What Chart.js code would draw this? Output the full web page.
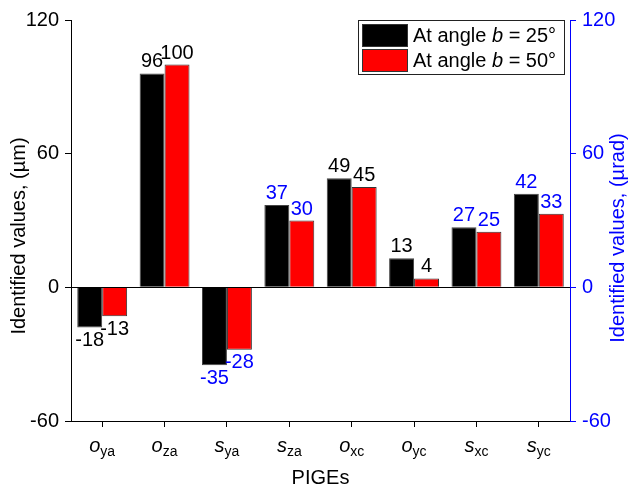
<!DOCTYPE html>
<html>
<head>
<meta charset="utf-8">
<script src="https://cdn.jsdelivr.net/npm/chart.js@4.4.0/dist/chart.umd.min.js"></script>
<style>
  html, body { margin: 0; padding: 0; background: #fff; }
  #wrap { width: 630px; height: 486px; }
</style>
</head>
<body>
<div id="wrap"><canvas id="myChart" width="630" height="486"></canvas></div>
<script>
// categories: main letter + subscript
const catMain = ['o', 'o', 's', 's', 'o', 'o', 's', 's']
const catSub = ['ya', 'za', 'ya', 'za', 'xc', 'yc', 'xc', 'yc']
// identified values
const angle25 = [-18, 96, -35, 37, 49, 13, 27, 42]
const angle50 = [-13, 100, -28, 30, 45, 4, 25, 33]
// value label colour (black = µm, blue = µrad)
const labelColor = ['#000', '#000', '#0000ff', '#0000ff', '#000', '#000', '#0000ff', '#0000ff']
const yTicks = [-60, 0, 60, 120]
const legendNames = [['At angle ', 'b', ' = 25°'], ['At angle ', 'b', ' = 50°']]

const FONT = "'Liberation Sans', Arial, Helvetica, sans-serif"
Chart.defaults.font.family = FONT

// value labels, zero line, category labels, titles, legend
const extras = {
  id: 'extras',
  afterDatasetsDraw(chart) {
    const c = chart.ctx
    const area = chart.chartArea
    const y = chart.scales.y
    // zero line
    const y0 = Math.round(y.getPixelForValue(0)) + 0.5
    c.save()
    c.strokeStyle = '#000'
    c.lineWidth = 1
    c.beginPath()
    c.moveTo(area.left, y0)
    c.lineTo(area.right, y0)
    c.stroke()
    // value labels
    c.font = '20px ' + FONT
    c.textAlign = 'center'
    chart.data.datasets.forEach((ds, i) => {
      chart.getDatasetMeta(i).data.forEach((el, j) => {
        const v = ds.data[j]
        c.fillStyle = labelColor[j]
        if (v >= 0) {
          c.textBaseline = 'alphabetic'
          c.fillText(String(v), el.x, el.y - 6)
        } else {
          c.textBaseline = 'top'
          c.fillText(String(v), el.x, el.y + 3)
        }
      })
    })
    c.restore()
  },
  afterDraw(chart) {
    const c = chart.ctx
    const x = chart.scales.x
    const area = chart.chartArea
    c.save()
    // category labels
    c.textBaseline = 'alphabetic'
    c.textAlign = 'left'
    c.fillStyle = '#000'
    catMain.forEach((m, i) => {
      const cx = x.getPixelForValue(i)
      c.font = 'italic 20px ' + FONT
      const w1 = c.measureText(m).width
      c.font = '14px ' + FONT
      const w2 = c.measureText(catSub[i]).width
      const x0 = cx - (w1 + w2) / 2
      c.font = 'italic 20px ' + FONT
      c.fillText(m, x0, 452)
      c.font = '14px ' + FONT
      c.fillText(catSub[i], x0 + w1, 456)
    })
    // axis titles
    c.font = '20px ' + FONT
    c.textAlign = 'center'
    c.fillText('PIGEs', (area.left + area.right) / 2, 484)
    c.textBaseline = 'middle'
    c.save()
    c.translate(19, 236)
    c.rotate(-Math.PI / 2)
    c.fillText('Identified values, (µm)', 0, 0)
    c.restore()
    c.save()
    c.fillStyle = '#0000ff'
    c.translate(618, 238)
    c.rotate(-Math.PI / 2)
    c.fillText('Identified values, (µrad)', 0, 0)
    c.restore()
    // legend
    c.strokeStyle = '#222'
    c.lineWidth = 1
    c.fillStyle = '#fff'
    c.fillRect(358.5, 20.5, 206, 54)
    c.strokeRect(358.5, 20.5, 206, 54)
    chart.data.datasets.forEach((ds, i) => {
      const top = 24 + i * 25
      c.fillStyle = ds.backgroundColor
      c.fillRect(362.5, top + 0.5, 45, 22)
      c.strokeStyle = '#333'
      c.strokeRect(362.5, top + 0.5, 45, 22)
      c.fillStyle = '#000'
      c.textAlign = 'left'
      c.textBaseline = 'middle'
      let tx = 413
      legendNames[i].forEach((part, k) => {
        c.font = (k === 1 ? 'italic ' : '') + '20px ' + FONT
        c.fillText(part, tx, top + 12)
        tx += c.measureText(part).width
      })
    })
    c.restore()
  }
}

const ctx = document.getElementById('myChart')
const myChart = new Chart(ctx, {
  type: 'bar',
  data: {
    labels: catMain.map((m, i) => m + catSub[i]),
    datasets: [
      {
        label: 'At angle b = 25°',
        data: angle25,
        backgroundColor: '#000000',
        borderColor: '#444444',
        borderWidth: 1,
        yAxisID: 'y'
      },
      {
        label: 'At angle b = 50°',
        data: angle50,
        backgroundColor: '#ff0000',
        borderColor: '#333333',
        borderWidth: 1,
        yAxisID: 'y'
      }
    ]
  },
  options: {
    responsive: false,
    animation: false,
    devicePixelRatio: 1,
    categoryPercentage: 0.8,
    barPercentage: 1.0,
    layout: { padding: { top: 20, left: 0, right: 0, bottom: 0 } },
    plugins: {
      legend: { display: false },
      tooltip: { enabled: false }
    },
    scales: {
      x: {
        grid: { offset: false, drawOnChartArea: false, drawTicks: true, tickLength: 6, color: '#000' },
        border: { display: true, color: '#000', width: 1 },
        ticks: { display: false },
        afterFit: s => { s.height = 65 }
      },
      y: {
        position: 'left',
        min: -60,
        max: 120,
        afterBuildTicks: s => { s.ticks = yTicks.map(v => ({ value: v })) },
        ticks: { color: '#000', font: { size: 20 }, padding: 6 },
        grid: { drawOnChartArea: false, drawTicks: true, tickLength: 6, color: '#000' },
        border: { display: true, color: '#000', width: 1 },
        afterFit: s => { s.width = 71 }
      },
      y2: {
        position: 'right',
        min: -60,
        max: 120,
        afterBuildTicks: s => { s.ticks = yTicks.map(v => ({ value: v })) },
        ticks: { color: '#0000ff', font: { size: 20 }, padding: 6 },
        grid: { drawOnChartArea: false, drawTicks: true, tickLength: 6, color: '#0000ff' },
        border: { display: true, color: '#0000ff', width: 1 },
        afterFit: s => { s.width = 60 }
      }
    }
  },
  plugins: [extras]
})
</script>
</body>
</html>
